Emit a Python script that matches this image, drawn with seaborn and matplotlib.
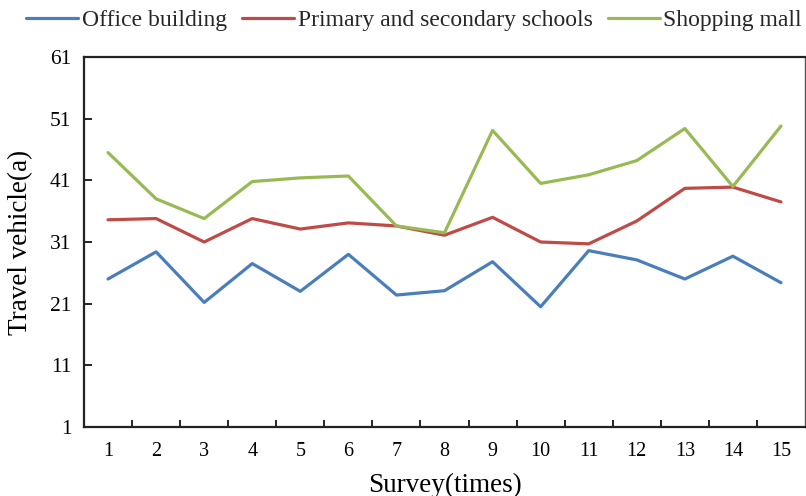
import numpy as np
import pandas as pd
import matplotlib
matplotlib.use("Agg")
import matplotlib.pyplot as plt
import seaborn as sns
from matplotlib.ticker import FixedLocator

surveys = list(range(1, 16))
office_building = [25.0, 29.4, 21.2, 27.5, 23.0, 29.0, 22.4, 23.1, 27.8, 20.5, 29.6, 28.1, 25.0, 28.7, 24.4]
schools = [34.6, 34.8, 31.0, 34.8, 33.1, 34.1, 33.6, 32.1, 35.0, 31.0, 30.7, 34.4, 39.7, 39.9, 37.5]
shopping_mall = [45.5, 38.0, 34.8, 40.8, 41.4, 41.7, 33.6, 32.5, 49.1, 40.5, 41.9, 44.2, 49.4, 40.0, 49.8]
series_names = ["Office building", "Primary and secondary schools", "Shopping mall"]
series_colors = ["#4A7EBB", "#BE4B48", "#98B954"]
y_ticks = [1, 11, 21, 31, 41, 51, 61]

df = pd.DataFrame({
    "Survey": surveys * 3,
    "Value": office_building + schools + shopping_mall,
    "Site": [series_names[0]] * 15 + [series_names[1]] * 15 + [series_names[2]] * 15,
})

sns.set_theme(style="white")
plt.rcParams["font.family"] = ["Liberation Serif", "DejaVu Serif"]

fig = plt.figure(figsize=(8.06, 4.96), dpi=100)
ax = fig.add_axes([84 / 806, (496 - 427) / 496, 721 / 806, 370 / 496])

sns.lineplot(data=df, x="Survey", y="Value", hue="Site", hue_order=series_names,
             palette=series_colors, linewidth=2.3, ax=ax, legend=True)

ax.set_xlim(0.5, 15.5)
ax.set_ylim(1, 61)
ax.set_yticks(y_ticks)
ax.set_xticks(surveys)
ax.xaxis.set_minor_locator(FixedLocator(np.arange(1.5, 15, 1.0)))
ax.tick_params(axis="x", which="major", length=0, pad=11, labelsize=14.5, colors="black")
ax.tick_params(axis="x", which="minor", direction="in", length=5, width=1.2, color="black", bottom=True)
ax.tick_params(axis="y", which="major", direction="in", length=6, width=1.2, color="black",
               left=True, pad=9, labelsize=15.5, labelcolor="black")

for side in ["left", "bottom", "top", "right"]:
    ax.spines[side].set_visible(True)
    ax.spines[side].set_color("#222222")
    ax.spines[side].set_linewidth(1.6)
ax.spines["right"].set_linewidth(1.0)
ax.spines["right"].set_color("#555555")

ax.set_xlabel("Survey(times)", fontsize=19.5, labelpad=8, color="black")
ax.set_ylabel("Travel vehicle(a)", fontsize=19.5, labelpad=12, color="black")

handles, labels = ax.get_legend_handles_labels()
ax.legend(handles, labels, loc="center", bbox_to_anchor=(0.458, 1.0 + 37 / 370), ncol=3,
          frameon=False, fontsize=17, handlelength=2.2, handletextpad=0.15,
          columnspacing=0.65, borderaxespad=0.0, borderpad=0.0)

fig.savefig("out.png", dpi=100)
